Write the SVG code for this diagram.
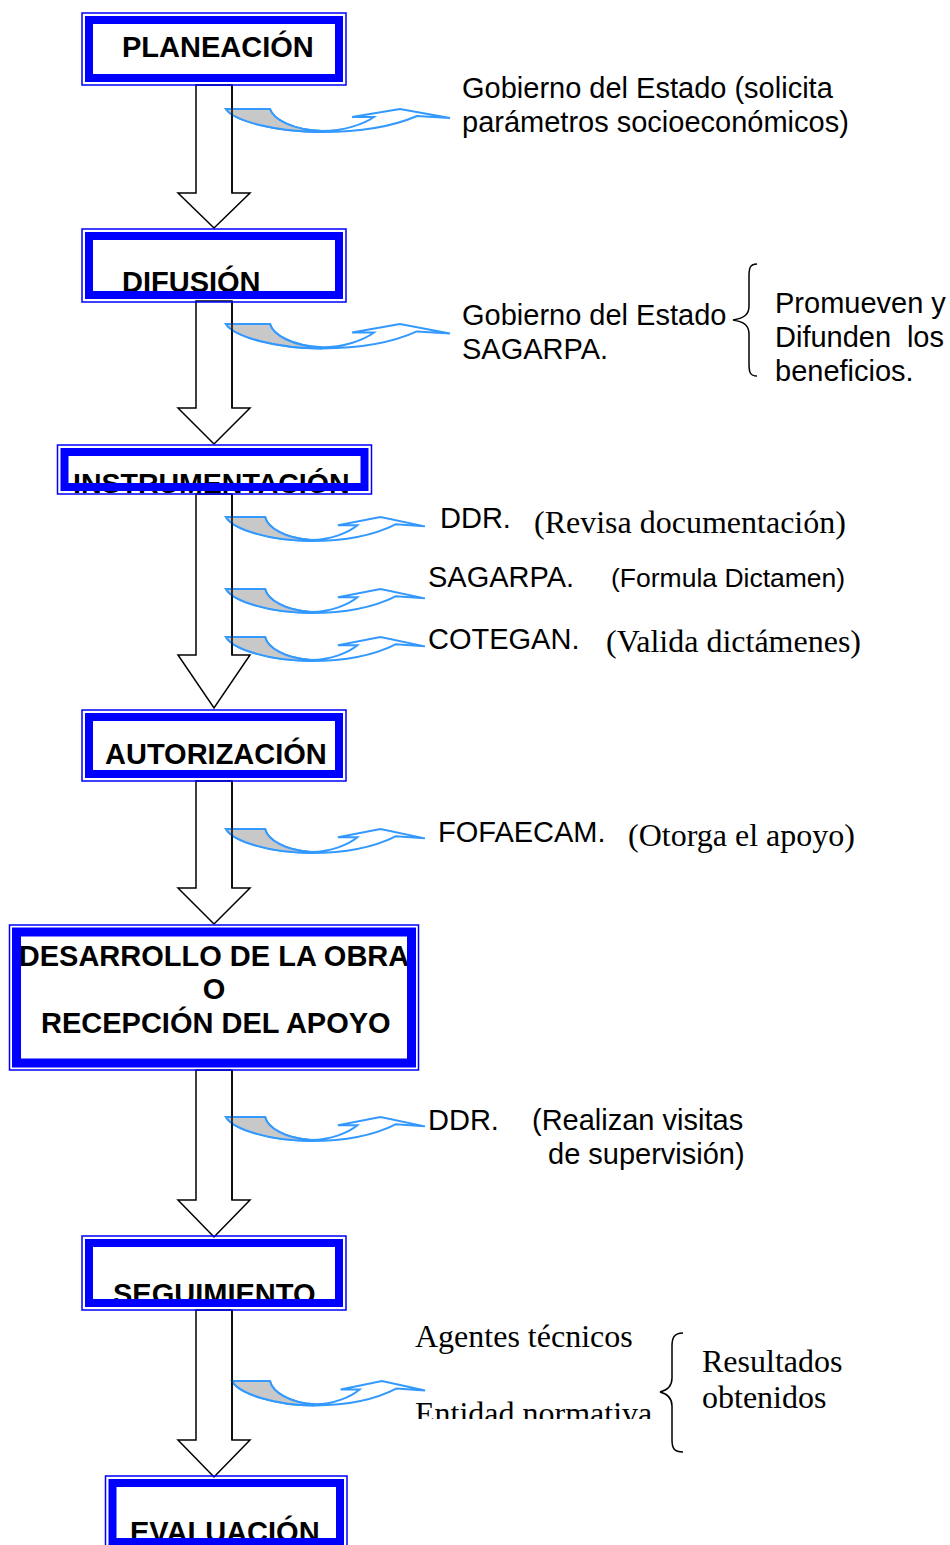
<svg xmlns="http://www.w3.org/2000/svg" xmlns:xlink="http://www.w3.org/1999/xlink" width="950" height="1545" viewBox="0 0 950 1545">
<style>
.bt{font-family:"Liberation Sans",Arial,sans-serif;font-weight:bold;font-size:29px;fill:#000}
.lb{font-family:"Liberation Sans",Arial,sans-serif;font-size:29px;fill:#000}
.tm{font-family:"Liberation Serif","Times New Roman",serif;font-size:32px;fill:#000}
.thin{fill:none;stroke:#0000ff;stroke-width:1.5}
.thick{fill:none;stroke:#0000ff;stroke-width:8}
.blk{fill:#fff;stroke:#000;stroke-width:1.5;stroke-linejoin:miter}
.blko{fill:none;stroke:#000;stroke-width:1.5}
.cv{fill:#fff;stroke:#3399ff;stroke-width:2;stroke-linejoin:miter}
.cg{fill:#c8c8c8;stroke:none}
.br{fill:none;stroke:#000;stroke-width:1.5}
</style>
<defs>
<g id="curv">
<path class="cv" vector-effect="non-scaling-stroke" d="M0,0 L44,0 C47,10 66,21 96,22 C118,22 138,15 148,8 L126,8 L174,0 L224,9 L191,7 C170,16 140,23 96,23 C50,23 8,12 0,0 Z"/>
<path class="cg" d="M1,0.8 L43.5,0.8 C47,10 66,20.5 95,22 C50,22.5 9,12 1,0.8 Z"/>
<path fill="none" stroke="#3399ff" stroke-width="2" vector-effect="non-scaling-stroke" d="M44,0 C47,10 66,21 96,22 M96,23 C50,23 8,12 0,0 L44,0"/>
</g>
<clipPath id="clipEnt"><rect x="400" y="1380" width="300" height="39"/></clipPath>
</defs>

<g id="connectors">
<path class="blk" d="M196,85 L232,85 L232,193 L250,193 L214,228 L178,193 L196,193 Z"/>
<path class="blk" d="M196,301 L232,301 L232,408 L250,408 L214,444 L178,408 L196,408 Z"/>
<path class="blk" d="M196,494 L232,494 L232,655 L250,655 L214,708 L178,655 L196,655 Z"/>
<path class="blk" d="M196,781 L232,781 L232,888 L250,888 L214,924 L178,888 L196,888 Z"/>
<path class="blk" d="M196,1070 L232,1070 L232,1200 L250,1200 L214,1237 L178,1200 L196,1200 Z"/>
<path class="blk" d="M196,1310 L232,1310 L232,1440 L250,1440 L214,1477 L178,1440 L196,1440 Z"/>
<use xlink:href="#curv" transform="translate(226,109)"/>
<use xlink:href="#curv" transform="translate(226,324) scale(1,1.06)"/>
<use xlink:href="#curv" transform="translate(226,517) scale(0.888,1.04)"/>
<use xlink:href="#curv" transform="translate(226,589) scale(0.888,1.04)"/>
<use xlink:href="#curv" transform="translate(226,637) scale(0.888,1.04)"/>
<use xlink:href="#curv" transform="translate(226,829) scale(0.888,1.04)"/>
<use xlink:href="#curv" transform="translate(226,1117) scale(0.888,1.04)"/>
<use xlink:href="#curv" transform="translate(232,1381) scale(0.862,1.06)"/>
<path class="blko" d="M232,85 L232,193 M232,301 L232,408 M232,494 L232,655 M232,781 L232,888 M232,1070 L232,1200 M232,1310 L232,1440"/>
</g>

<g id="n-planeacion">
<text class="bt" x="122" y="56.5">PLANEACIÓN</text>
<rect class="thin" x="82" y="13" width="264" height="72"/>
<rect class="thick" x="89" y="20" width="250" height="58"/>
</g>
<g id="n-difusion">
<text class="bt" x="122" y="292">DIFUSIÓN</text>
<rect class="thin" x="82" y="229" width="264" height="73"/>
<rect class="thick" x="89" y="236" width="250" height="59"/>
</g>
<g id="n-instrumentacion">
<text class="bt" x="73" y="492.5" style="font-size:28.5px">INSTRUMENTACIÓN</text>
<rect class="thin" x="57.5" y="445" width="314" height="49"/>
<rect class="thick" x="64.5" y="452" width="300" height="35"/>
</g>
<g id="n-autorizacion">
<text class="bt" x="105" y="764">AUTORIZACIÓN</text>
<rect class="thin" x="82" y="710" width="264" height="71"/>
<rect class="thick" x="89" y="717" width="250" height="57"/>
</g>
<g id="n-desarrollo">
<text class="bt" x="214" y="966" text-anchor="middle">DESARROLLO DE LA OBRA</text>
<text class="bt" x="214" y="999" text-anchor="middle">O</text>
<text class="bt" x="41" y="1032.5">RECEPCIÓN DEL APOYO</text>
<rect class="thin" x="9.5" y="925" width="409" height="145"/>
<rect class="thick" x="16.5" y="932" width="395" height="131" style="stroke-width:9"/>
</g>
<g id="n-seguimiento">
<text class="bt" x="113" y="1304">SEGUIMIENTO</text>
<rect class="thin" x="82" y="1236" width="264" height="74"/>
<rect class="thick" x="89" y="1243" width="250" height="60"/>
</g>
<g id="n-evaluacion">
<text class="bt" x="130" y="1542">EVALUACIÓN</text>
<rect class="thin" x="105.5" y="1476" width="241.5" height="74"/>
<rect class="thick" x="112.5" y="1483" width="227.5" height="59"/>
</g>

<g id="l-gobierno1">
<text class="lb" x="462" y="98">Gobierno del Estado (solicita</text>
<text class="lb" x="462" y="132">parámetros socioeconómicos)</text>
</g>
<g id="l-gobierno2">
<text class="lb" x="462" y="325">Gobierno del Estado</text>
<text class="lb" x="462" y="359">SAGARPA.</text>
<path class="br" d="M757,264 C750,264 749,268 749,276 L749,306 C749,314 745,318 733,320 C745,322 749,326 749,334 L749,364 C749,372 750,376 757,376"/>
<text class="lb" x="775" y="313">Promueven y</text>
<text class="lb" x="775" y="347">Difunden</text>
<text class="lb" x="944" y="347" text-anchor="end">los</text>
<text class="lb" x="775" y="381">beneficios.</text>
</g>
<g id="l-ddr1">
<text class="lb" x="440" y="528">DDR.</text>
<text class="tm" x="534" y="533">(Revisa documentación)</text>
</g>
<g id="l-sagarpa">
<text class="lb" x="428" y="587">SAGARPA.</text>
<text class="lb" x="611" y="587" style="font-size:26.5px">(Formula Dictamen)</text>
</g>
<g id="l-cotegan">
<text class="lb" x="428" y="648.5">COTEGAN.</text>
<text class="tm" x="606" y="652">(Valida dictámenes)</text>
</g>
<g id="l-fofaecam">
<text class="lb" x="438" y="842">FOFAECAM.</text>
<text class="tm" x="628" y="846">(Otorga el apoyo)</text>
</g>
<g id="l-ddr2">
<text class="lb" x="428" y="1130">DDR.</text>
<text class="lb" x="532" y="1130">(Realizan visitas</text>
<text class="lb" x="548" y="1164">de supervisión)</text>
</g>
<g id="l-agentes">
<text class="tm" x="415" y="1347">Agentes técnicos</text>
<text class="tm" x="415" y="1424" clip-path="url(#clipEnt)">Entidad normativa</text>
<path class="br" d="M683,1333 C674,1333 672,1338 672,1346 L672,1378 C672,1386 668,1390 660,1392 C668,1394 672,1398 672,1406 L672,1440 C672,1448 674,1452 683,1452"/>
<text class="tm" x="702" y="1372">Resultados</text>
<text class="tm" x="702" y="1408">obtenidos</text>
</g>
</svg>
